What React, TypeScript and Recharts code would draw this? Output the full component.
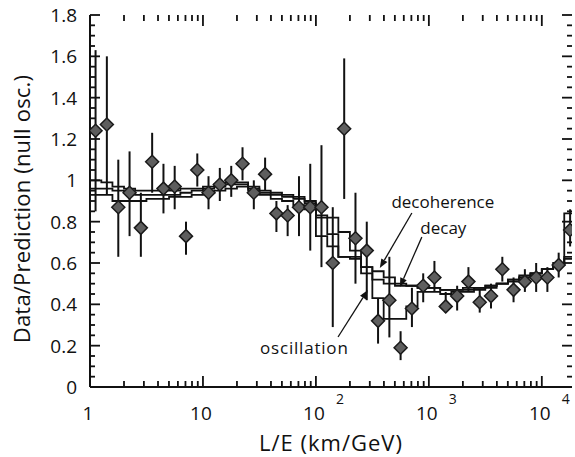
import React from "react";
import {
  ComposedChart,
  Scatter,
  Line,
  XAxis,
  YAxis,
  ErrorBar,
  ReferenceLine,
  ReferenceDot,
} from "recharts";

const FONT = "'Open Sans', sans-serif";
const INK = "#111";
const X_MAX = 18500;

// L/E bin centres (km/GeV), ten bins per decade
const binCenters = [
  1.12, 1.41, 1.78, 2.24, 2.82, 3.55, 4.47, 5.62, 7.08, 8.91,
  11.2, 14.1, 17.8, 22.4, 28.2, 35.5, 44.7, 56.2, 70.8, 89.1,
  112, 141, 178, 224, 282, 355, 447, 562, 708, 891,
  1120, 1410, 1780, 2240, 2820, 3550, 4470, 5620, 7080, 8910,
  11200, 14100, 17800,
];

// bin edges used by the histogram curves
const binEdges = [
  1, 1.26, 1.58, 2.0, 2.51, 3.16, 3.98, 5.01, 6.31, 7.94,
  10, 12.6, 15.8, 20, 25.1, 31.6, 39.8, 50.1, 63.1, 79.4,
  100, 126, 158, 200, 251, 316, 398, 501, 631, 794,
  1000, 1260, 1580, 2000, 2510, 3160, 3980, 5010, 6310, 7940,
  10000, 12600, 15800, X_MAX,
];

// data / prediction and the ends of each error bar
const ratio = [
  1.24, 1.27, 0.87, 0.94, 0.77, 1.09, 0.96, 0.97, 0.73, 1.05,
  0.94, 0.98, 1.0, 1.08, 0.94, 1.03, 0.84, 0.83, 0.87, 0.87,
  0.87, 0.6, 1.25, 0.72, 0.66, 0.32, 0.42, 0.19, 0.38, 0.49,
  0.53, 0.39, 0.44, 0.51, 0.41, 0.44, 0.57, 0.47, 0.51, 0.53,
  0.53, 0.59, 0.76,
];
const errLow = [
  0.85, 0.93, 0.63, 0.73, 0.63, 0.94, 0.84, 0.86, 0.64, 0.97,
  0.86, 0.9, 0.92, 1.0, 0.86, 0.95, 0.75, 0.73, 0.73, 0.66,
  0.58, 0.29, 0.91, 0.5, 0.42, 0.21, 0.24, 0.13, 0.29, 0.41,
  0.46, 0.36, 0.37, 0.46, 0.36, 0.38, 0.51, 0.41, 0.46, 0.46,
  0.46, 0.53, 0.68,
];
const errHigh = [
  1.63, 1.6, 1.1, 1.14, 0.94, 1.23, 1.08, 1.07, 0.8, 1.13,
  1.02, 1.06, 1.07, 1.16, 1.0, 1.11, 0.9, 0.88, 1.02, 1.08,
  1.17, 0.87, 1.59, 0.94, 0.8, 0.43, 0.63, 0.27, 0.48, 0.55,
  0.61, 0.46, 0.49, 0.58, 0.47, 0.5, 0.63, 0.53, 0.57, 0.6,
  0.58, 0.65, 0.86,
];

// expectations per bin
const oscillation = [
  0.93, 0.93, 0.9, 0.9, 0.9, 0.91, 0.91, 0.92, 0.92, 0.93,
  0.94, 0.95, 0.96, 0.97, 0.95, 0.93, 0.91, 0.9, 0.88, 0.86,
  0.73, 0.68, 0.63, 0.63, 0.55, 0.43, 0.33, 0.33, 0.39, 0.46,
  0.46, 0.45, 0.46, 0.46, 0.47, 0.48, 0.5, 0.51, 0.53, 0.55,
  0.57, 0.6, 0.63,
];
const decay = [
  0.96, 0.96, 0.95, 0.94, 0.93, 0.93, 0.93, 0.93, 0.94, 0.95,
  0.96, 0.97, 0.98, 0.98, 0.96, 0.94, 0.93, 0.92, 0.91, 0.89,
  0.82, 0.74, 0.63, 0.62, 0.58, 0.52, 0.5, 0.49, 0.49, 0.48,
  0.48, 0.47, 0.47, 0.47, 0.48, 0.49, 0.5, 0.52, 0.53, 0.55,
  0.57, 0.59, 0.62,
];
const decoherence = [
  1.0, 0.99, 0.97, 0.96, 0.95, 0.95, 0.95, 0.95, 0.96, 0.96,
  0.97, 0.98, 0.99, 0.99, 0.97, 0.95, 0.94, 0.93, 0.92, 0.9,
  0.83, 0.82, 0.75, 0.66, 0.58, 0.56, 0.53, 0.5, 0.49, 0.48,
  0.48, 0.47, 0.47, 0.48, 0.48, 0.49, 0.5, 0.52, 0.54, 0.55,
  0.57, 0.59, 0.84,
];

const yMajor = [0, 0.2, 0.4, 0.6, 0.8, 1, 1.2, 1.4, 1.6, 1.8];
const xMajor = [1, 10, 100, 1000, 10000];

const yTicks: number[] = [];
for (let i = 0; i <= 36; i++) yTicks.push(Math.round(i * 5) / 100);
const xTicks: number[] = [];
xMajor.forEach((d) => {
  for (let m = 1; m <= 9; m++) if (d * m <= X_MAX) xTicks.push(d * m);
});

const points = binCenters.map((x, i) => ({
  x,
  y: ratio[i],
  err: [ratio[i] - errLow[i], errHigh[i] - ratio[i]],
}));

const stepRows = binEdges.map((x, i) => {
  const k = Math.min(i, oscillation.length - 1);
  return { x, osc: oscillation[k], decay: decay[k], decoh: decoherence[k] };
});

const isMajorY = (v: number) => yMajor.some((m) => Math.abs(m - v) < 1e-6);
const isMajorX = (v: number) => xMajor.includes(v);

const LeftLabel = ({ x, y, payload }: any) =>
  isMajorY(payload.value) ? (
    <text x={x - 13} y={y} dy="0.36em" textAnchor="end" fontSize={19} fontFamily={FONT} fill={INK}>
      {String(payload.value)}
    </text>
  ) : null;

const BottomLabel = ({ x, y, payload }: any) => {
  const v = payload.value;
  if (!isMajorX(v)) return null;
  const exp = Math.round(Math.log10(v));
  return (
    <g>
      <text x={x - 2} y={y + 33} textAnchor="middle" fontSize={19} fontFamily={FONT} fill={INK}>
        {exp === 0 ? "1" : "10"}
      </text>
      {exp > 1 && (
        <text x={x + 20} y={y + 17} textAnchor="start" fontSize={14} fontFamily={FONT} fill={INK}>
          {exp}
        </text>
      )}
    </g>
  );
};

// inward tick marks on both sides of the frame, drawn from a reference line
const HTicks = ({ x1, x2, y1, major }: any) => {
  const L = major ? 10 : 5;
  const a = Math.min(x1, x2);
  const b = Math.max(x1, x2);
  return (
    <g>
      <line x1={a} y1={y1} x2={a + L} y2={y1} stroke={INK} strokeWidth={1.8} />
      <line x1={b - L} y1={y1} x2={b} y2={y1} stroke={INK} strokeWidth={1.8} />
    </g>
  );
};
const VTicks = ({ x1, y1, y2, major }: any) => {
  const L = major ? 11 : 6;
  const a = Math.min(y1, y2);
  const b = Math.max(y1, y2);
  return (
    <g>
      <line x1={x1} y1={a} x2={x1} y2={a + L} stroke={INK} strokeWidth={1.8} />
      <line x1={x1} y1={b - L} x2={x1} y2={b} stroke={INK} strokeWidth={1.8} />
    </g>
  );
};

const Diamond = ({ cx, cy }: any) => (
  <polygon
    points={`${cx},${cy - 6.5} ${cx + 6.5},${cy} ${cx},${cy + 6.5} ${cx - 6.5},${cy}`}
    fill="#5e5e5e"
    stroke="#1a1a1a"
    strokeWidth={1.5}
  />
);

const Arrow = ({ x1, y1, x2, y2 }: any) => {
  const a = Math.atan2(y2 - y1, x2 - x1);
  const L = 9;
  const W = 3.5;
  const bx = x2 - L * Math.cos(a);
  const by = y2 - L * Math.sin(a);
  const px = -Math.sin(a) * W;
  const py = Math.cos(a) * W;
  return (
    <g>
      <line x1={x1} y1={y1} x2={bx} y2={by} stroke={INK} strokeWidth={1.3} />
      <polygon points={`${x2},${y2} ${bx + px},${by + py} ${bx - px},${by - py}`} fill={INK} />
    </g>
  );
};

const Note = (text: string, spacing = 0) => ({ cx, cy }: any) => (
  <text
    x={cx}
    y={cy}
    dy="0.35em"
    textAnchor="middle"
    fontSize={17}
    letterSpacing={spacing}
    fontFamily={FONT}
    fill={INK}
  >
    {text}
  </text>
);

const axisLine = { stroke: INK, strokeWidth: 2 };

export default function App() {
  return (
    <div style={{ position: "absolute", left: 0, top: 0, background: "#fff" }}>
      <ComposedChart width={575} height={457} margin={{ top: 15, right: 3, bottom: 0, left: 0 }}>
        <XAxis
          xAxisId="b"
          dataKey="x"
          type="number"
          scale="log"
          domain={[1, X_MAX]}
          allowDataOverflow
          ticks={xMajor}
          interval={0}
          tickSize={0}
          tickMargin={0}
          tickLine={false}
          axisLine={axisLine}
          tick={<BottomLabel />}
          height={70}
          label={{
            content: ({ viewBox }: any) => (
              <text
                x={viewBox.x + viewBox.width / 2}
                y={viewBox.y + 64}
                textAnchor="middle"
                fontSize={22}
                letterSpacing={1}
                fontFamily={FONT}
                fill={INK}
              >
                L/E (km/GeV)
              </text>
            ),
          }}
        />
        <XAxis
          xAxisId="t"
          orientation="top"
          dataKey="x"
          type="number"
          scale="log"
          domain={[1, X_MAX]}
          allowDataOverflow
          tick={false}
          tickLine={false}
          axisLine={axisLine}
          height={0}
        />
        <YAxis
          yAxisId="l"
          dataKey="y"
          type="number"
          domain={[0, 1.8]}
          allowDataOverflow
          ticks={yMajor}
          interval={0}
          tickSize={0}
          tickMargin={0}
          tickLine={false}
          axisLine={axisLine}
          tick={<LeftLabel />}
          width={90}
          label={{
            content: ({ viewBox }: any) => {
              const cx = 30;
              const cy = viewBox.y + viewBox.height / 2 + 8;
              return (
                <text
                  x={cx}
                  y={cy}
                  transform={`rotate(-90, ${cx}, ${cy})`}
                  textAnchor="middle"
                  fontSize={22}
                  letterSpacing={0.2}
                  fontFamily={FONT}
                  fill={INK}
                >
                  Data/Prediction (null osc.)
                </text>
              );
            },
          }}
        />
        <YAxis
          yAxisId="r"
          orientation="right"
          type="number"
          domain={[0, 1.8]}
          allowDataOverflow
          tick={false}
          tickLine={false}
          axisLine={axisLine}
          width={0}
        />

        {yTicks.map((v) => (
          <ReferenceLine key={`y${v}`} xAxisId="b" yAxisId="l" y={v} shape={<HTicks major={isMajorY(v)} />} />
        ))}
        {xTicks.map((v) => (
          <ReferenceLine key={`x${v}`} xAxisId="b" yAxisId="l" x={v} shape={<VTicks major={isMajorX(v)} />} />
        ))}

        <Line xAxisId="b" yAxisId="l" data={stepRows} dataKey="osc" type="stepAfter" stroke={INK} strokeWidth={1.8} dot={false} isAnimationActive={false} />
        <Line xAxisId="b" yAxisId="l" data={stepRows} dataKey="decay" type="stepAfter" stroke={INK} strokeWidth={1.8} dot={false} isAnimationActive={false} />
        <Line xAxisId="b" yAxisId="l" data={stepRows} dataKey="decoh" type="stepAfter" stroke={INK} strokeWidth={1.8} dot={false} isAnimationActive={false} />

        <Scatter xAxisId="b" yAxisId="l" data={points} shape={<Diamond />} isAnimationActive={false}>
          <ErrorBar dataKey="err" direction="y" width={0} stroke={INK} strokeWidth={2} isAnimationActive={false} />
        </Scatter>

        <ReferenceLine xAxisId="b" yAxisId="l" segment={[{ x: 707, y: 0.842 }, { x: 368, y: 0.576 }]} shape={<Arrow />} />
        <ReferenceLine xAxisId="b" yAxisId="l" segment={[{ x: 867, y: 0.726 }, { x: 554, y: 0.484 }]} shape={<Arrow />} />
        <ReferenceLine xAxisId="b" yAxisId="l" segment={[{ x: 157, y: 0.242 }, { x: 288, y: 0.469 }]} shape={<Arrow />} />

        <ReferenceDot xAxisId="b" yAxisId="l" x={1330} y={0.895} r={0} shape={Note("decoherence")} />
        <ReferenceDot xAxisId="b" yAxisId="l" x={1343} y={0.77} r={0} shape={Note("decay")} />
        <ReferenceDot xAxisId="b" yAxisId="l" x={79} y={0.189} r={0} shape={Note("oscillation", 0.8)} />
      </ComposedChart>
    </div>
  );
}
